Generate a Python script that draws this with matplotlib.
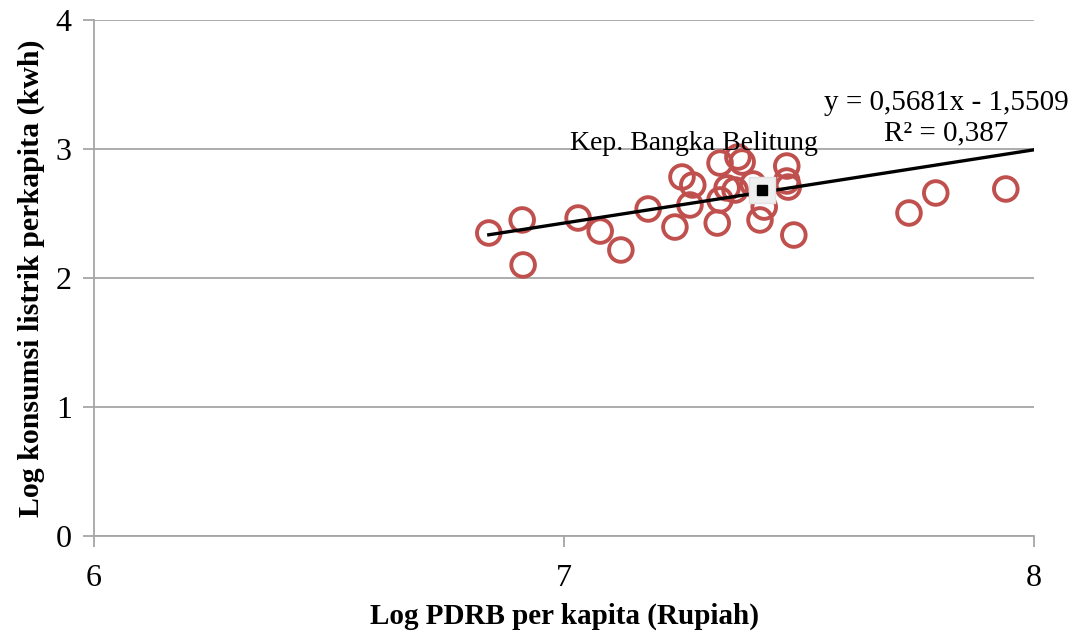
import numpy as np
import matplotlib.pyplot as plt

plt.rcParams['font.family'] = ['Liberation Serif', 'DejaVu Serif']

# Log PDRB per kapita vs log konsumsi listrik per kapita (per provinsi)
pdrb = [6.840, 6.911, 6.913, 7.030, 7.077, 7.121, 7.179, 7.236, 7.251, 7.268,
        7.274, 7.326, 7.332, 7.332, 7.347, 7.364, 7.370, 7.379, 7.402, 7.417,
        7.426, 7.474, 7.474, 7.477, 7.489, 7.734, 7.791, 7.940]
listrik = [2.349, 2.450, 2.101, 2.465, 2.364, 2.217, 2.535, 2.395, 2.783, 2.566,
           2.721, 2.426, 2.891, 2.605, 2.698, 2.682, 2.938, 2.899, 2.729, 2.450,
           2.550, 2.868, 2.752, 2.705, 2.333, 2.504, 2.659, 2.690]

# Kep. Bangka Belitung
babel_x = 7.421
babel_y = 2.682

# trendline dari persamaan di grafik
slope = 0.5681
intercept = -1.5509
r2_label = '0,387'

fig = plt.figure(figsize=(10.8, 6.35), dpi=100)
ax = fig.add_axes([94/1080, 1 - 536/635, 940/1080, 516/635])

ax.scatter(pdrb, listrik, s=17**2, facecolors='none', edgecolors='#C0504D',
           linewidths=2.8, zorder=3)

xt = np.array([min(pdrb), 8.0])
ax.plot(xt, slope*xt + intercept, color='black', lw=2.4, zorder=4)

ax.plot([babel_x], [babel_y], marker='s', ms=19, color='#EFEFEF',
        mec='#E2E2E2', zorder=5)
ax.plot([babel_x], [babel_y], marker='s', ms=7.5, color='black', zorder=6)
ax.text(7.277, 3.04, 'Kep. Bangka Belitung', fontsize=20,
        ha='center', va='center', zorder=7)

ax.text(7.813, 3.36, 'y = 0,5681x - 1,5509', fontsize=21, ha='center', va='center')
ax.text(7.813, 3.12, 'R² = ' + r2_label, fontsize=21, ha='center', va='center')

ax.set_xlim(6, 8)
ax.set_ylim(0, 4)
ax.set_xticks([6, 7, 8])
ax.set_yticks([0, 1, 2, 3, 4])
ax.grid(axis='y', color='#A6A6A6', lw=1.3)
ax.set_axisbelow(True)
for s in ['top', 'right']:
    ax.spines[s].set_visible(False)
for s in ['left', 'bottom']:
    ax.spines[s].set_color('#A6A6A6')
    ax.spines[s].set_linewidth(1.3)
ax.tick_params(colors='#A6A6A6', length=8, width=1.3, labelsize=23,
               labelcolor='black')
ax.tick_params(axis='x', pad=12)
ax.tick_params(axis='y', pad=8)

ax.set_xlabel('Log PDRB per kapita (Rupiah)', fontsize=21, fontweight='bold',
              labelpad=7)
ax.set_ylabel('Log konsumsi listrik perkapita (kwh)', fontsize=21.5,
              fontweight='bold', labelpad=8)

fig.savefig('out.png', dpi=100)
